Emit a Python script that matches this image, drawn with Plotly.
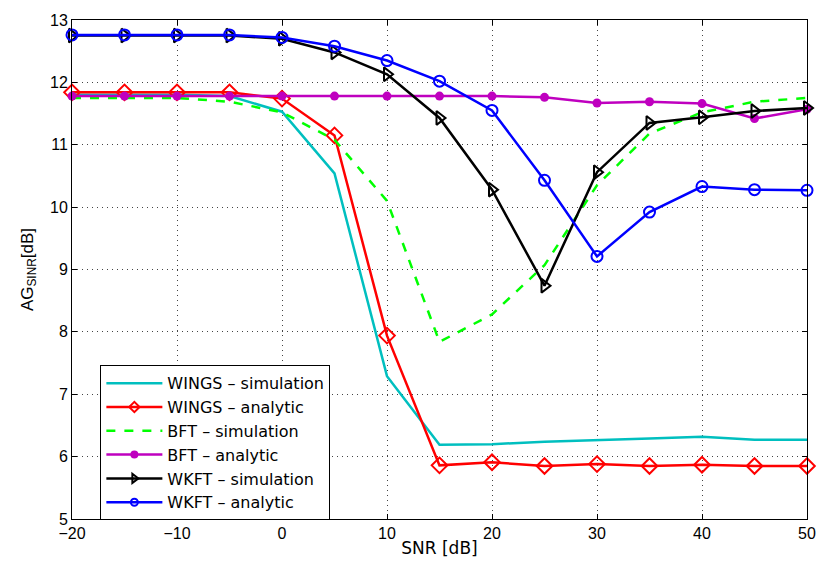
import plotly.graph_objects as go

snr = [-20, -15, -10, -5, 0, 5, 10, 15, 20, 25, 30, 35, 40, 45, 50]

wings_sim = [11.80, 11.80, 11.80, 11.78, 11.53, 10.54, 7.29, 6.19, 6.20, 6.24, 6.26, 6.29, 6.32, 6.27, 6.27]
wings_ana = [11.84, 11.84, 11.84, 11.84, 11.74, 11.15, 7.94, 5.86, 5.91, 5.85, 5.88, 5.85, 5.87, 5.85, 5.85]
bft_sim = [11.75, 11.75, 11.75, 11.69, 11.52, 11.08, 10.10, 7.84, 8.28, 9.07, 10.35, 11.18, 11.52, 11.69, 11.75]
bft_ana = [11.78, 11.78, 11.78, 11.78, 11.78, 11.78, 11.78, 11.78, 11.78, 11.76, 11.67, 11.69, 11.66, 11.42, 11.57]
wkft_sim = [12.75, 12.75, 12.75, 12.75, 12.70, 12.48, 12.13, 11.43, 10.28, 8.74, 10.56, 11.35, 11.44, 11.54, 11.59]
wkft_ana = [12.76, 12.76, 12.76, 12.76, 12.72, 12.58, 12.35, 12.02, 11.55, 10.43, 9.21, 9.92, 10.33, 10.28, 10.27]

series_names = ["WINGS \u2013 simulation", "WINGS \u2013 analytic", "BFT \u2013 simulation",
                "BFT \u2013 analytic", "WKFT \u2013 simulation", "WKFT \u2013 analytic"]

x_ticks = [-20, -10, 0, 10, 20, 30, 40, 50]
x_ticktext = ["\u221220", "\u221210", "0", "10", "20", "30", "40", "50"]
y_ticks = [5, 6, 7, 8, 9, 10, 11, 12, 13]

FONT = "Liberation Sans, Arial, Helvetica, sans-serif"
WIDE = "DejaVu Sans, Verdana, sans-serif"

styles = [
    dict(mode="lines", line=dict(color="#00BFBF", width=2.5), marker=None, lmarker=None),
    dict(mode="lines+markers", line=dict(color="#FF0000", width=2.5),
         marker=dict(symbol="diamond-open", size=12, color="#FF0000", line=dict(width=2)),
         lmarker=dict(symbol="diamond-open", size=8, color="#FF0000", line=dict(width=2))),
    dict(mode="lines", line=dict(color="#00FF00", width=2.5, dash="dash"), marker=None, lmarker=None),
    dict(mode="lines+markers", line=dict(color="#BF00BF", width=2.5),
         marker=dict(symbol="circle", size=9, color="#BF00BF"),
         lmarker=dict(symbol="circle", size=8, color="#BF00BF")),
    dict(mode="lines+markers", line=dict(color="#000000", width=2.5),
         marker=dict(symbol="triangle-right-open", size=12, color="#000000", line=dict(width=2)),
         lmarker=dict(symbol="triangle-right-open", size=8, color="#000000", line=dict(width=2))),
    dict(mode="lines+markers", line=dict(color="#0000FF", width=2.5),
         marker=dict(symbol="circle-open", size=11, color="#0000FF", line=dict(width=2)),
         lmarker=dict(symbol="circle-open", size=7, color="#0000FF", line=dict(width=2))),
]
data = [wings_sim, wings_ana, bft_sim, bft_ana, wkft_sim, wkft_ana]

fig = go.Figure()
for name, ys, st in zip(series_names, data, styles):
    kw = dict(mode=st["mode"], line=st["line"])
    if st["marker"] is not None:
        kw["marker"] = st["marker"]
    fig.add_trace(go.Scatter(x=snr, y=ys, name=name, showlegend=False, cliponaxis=False, **kw))
# legend entries (smaller markers, as in the reference legend)
for name, st in zip(series_names, styles):
    kw = dict(mode=st["mode"], line=st["line"])
    if st["lmarker"] is not None:
        kw["marker"] = st["lmarker"]
    fig.add_trace(go.Scatter(x=[None], y=[None], name=name, showlegend=True, **kw))

axis_common = dict(
    showline=True, linecolor="black", linewidth=1, mirror="ticks",
    ticks="inside", ticklen=5, tickcolor="black",
    showgrid=True, gridcolor="#444444", griddash="1px,4px", gridwidth=1,
    zeroline=False, tickfont=dict(size=16, color="black", family=FONT),
)

fig.update_xaxes(range=[-20, 50], tickvals=x_ticks, ticktext=x_ticktext,
                 title=dict(text="SNR [dB]", font=dict(size=17, color="black", family=WIDE), standoff=0),
                 **axis_common)
fig.update_yaxes(range=[5, 13], tickvals=y_ticks,
                 title=dict(text="AG<sub>SINR</sub>[dB]", font=dict(size=17, color="black", family=FONT), standoff=12),
                 **axis_common)

fig.update_layout(
    width=828, height=568,
    margin=dict(l=72, r=12, t=14, b=49),
    paper_bgcolor="white", plot_bgcolor="white",
    font=dict(family=FONT, size=16, color="black"),
    showlegend=True,
    legend=dict(x=0.0386, y=0.308, xanchor="left", yanchor="top",
                bgcolor="white", bordercolor="black", borderwidth=1,
                font=dict(size=16, color="black", family=WIDE),
                tracegroupgap=0, itemwidth=56),
)

fig.write_html("out.html")
